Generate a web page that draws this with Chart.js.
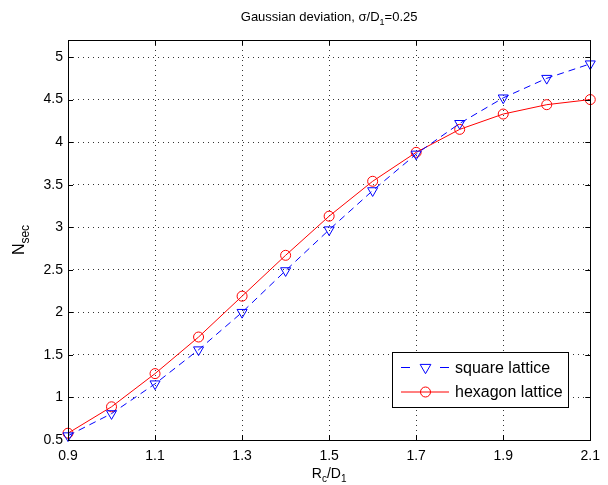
<!DOCTYPE html>
<html>
<head>
<meta charset="utf-8">
<script src="https://cdn.jsdelivr.net/npm/chart.js@4/dist/chart.umd.min.js"></script>
<style>
html,body{margin:0;padding:0;background:#fff;}
#wrap{width:608px;height:485px;}
</style>
</head>
<body>
<div id="wrap"><canvas id="c" width="608" height="485"></canvas></div>
<script>
// ---- data ----
const xValues = [0.9, 1.0, 1.1, 1.2, 1.3, 1.4, 1.5, 1.6, 1.7, 1.8, 1.9, 2.0, 2.1];
const squareValues = [0.55, 0.81, 1.16, 1.56, 2.00, 2.49, 2.97, 3.43, 3.86, 4.22, 4.52, 4.75, 4.92];
const hexagonValues = [0.58, 0.89, 1.28, 1.71, 2.19, 2.67, 3.13, 3.54, 3.88, 4.15, 4.33, 4.44, 4.50];
const seriesLabels = ['square lattice', 'hexagon lattice'];
const xTicks = [0.9, 1.1, 1.3, 1.5, 1.7, 1.9, 2.1];
const xTickLabels = ['0.9', '1.1', '1.3', '1.5', '1.7', '1.9', '2.1'];
const yTicks = [0.5, 1, 1.5, 2, 2.5, 3, 3.5, 4, 4.5, 5];
const yTickLabels = ['0.5', '1', '1.5', '2', '2.5', '3', '3.5', '4', '4.5', '5'];

const FONT = '"Liberation Sans", Arial, Helvetica, sans-serif';
const BLUE = '#0000ff', RED = '#ff0000';

function toPoints(ys) { return xValues.map((x, i) => ({ x: x, y: ys[i] })); }

// draw a run of [text, mode] parts; mode: 'n' normal, 's' subscript
function drawRich(ctx, parts, x, y, size, align) {
  const subSize = Math.round(size * 0.72);
  let total = 0;
  const widths = parts.map(p => {
    ctx.font = (p[1] === 's' ? subSize : size) + 'px ' + FONT;
    const w = ctx.measureText(p[0]).width;
    total += w;
    return w;
  });
  let cx = align === 'center' ? x - total / 2 : x;
  ctx.textAlign = 'left';
  ctx.textBaseline = 'alphabetic';
  parts.forEach((p, i) => {
    ctx.font = (p[1] === 's' ? subSize : size) + 'px ' + FONT;
    ctx.fillText(p[0], cx, p[1] === 's' ? y + size * 0.3 : y);
    cx += widths[i];
  });
}

const decor = {
  id: 'decor',
  afterDraw(chart) {
    const ctx = chart.ctx;
    const a = chart.chartArea;
    const xs = chart.scales.x, ys = chart.scales.y;
    ctx.save();
    ctx.strokeStyle = '#000';
    ctx.lineWidth = 1;
    ctx.setLineDash([]);
    // inward ticks
    const TL = 5;
    ctx.beginPath();
    xTicks.forEach(v => {
      const px = Math.round(xs.getPixelForValue(v)) + 0.5;
      ctx.moveTo(px, a.bottom); ctx.lineTo(px, a.bottom - TL);
      ctx.moveTo(px, a.top); ctx.lineTo(px, a.top + TL);
    });
    yTicks.forEach(v => {
      const py = Math.round(ys.getPixelForValue(v)) + 0.5;
      ctx.moveTo(a.left, py); ctx.lineTo(a.left + TL, py);
      ctx.moveTo(a.right, py); ctx.lineTo(a.right - TL, py);
    });
    ctx.stroke();
    // box
    ctx.strokeRect(Math.round(a.left) + 0.5, Math.round(a.top) + 0.5,
                   Math.round(a.right - a.left), Math.round(a.bottom - a.top));

    // title
    ctx.fillStyle = '#000';
    const cxp = (a.left + a.right) / 2;
    drawRich(ctx, [['Gaussian deviation, σ/D', 'n'], ['1', 's'], ['=0.25', 'n']], cxp, 21, 13, 'center');
    // x label
    drawRich(ctx, [['R', 'n'], ['c', 's'], ['/D', 'n'], ['1', 's']], cxp, 478, 14, 'center');
    // y label (rotated)
    ctx.save();
    ctx.translate(24, (a.top + a.bottom) / 2);
    ctx.rotate(-Math.PI / 2);
    drawRich(ctx, [['N', 'n'], ['sec', 's']], 0, 0, 16, 'center');
    ctx.restore();

    // legend
    const lx = 392.5, ly = 352.5, lw = 176, lh = 55;
    ctx.fillStyle = '#fff';
    ctx.fillRect(lx, ly, lw, lh);
    ctx.strokeStyle = '#000';
    ctx.strokeRect(lx, ly, lw, lh);
    const rows = [
      { label: seriesLabels[0], color: BLUE, dash: [7, 5], marker: 'tri', y: 367.5 },
      { label: seriesLabels[1], color: RED, dash: [], marker: 'circ', y: 392 }
    ];
    rows.forEach(r => {
      ctx.strokeStyle = r.color;
      ctx.lineWidth = 1;
      ctx.setLineDash([]);
      ctx.beginPath();
      if (r.dash.length) {
        ctx.moveTo(401, r.y); ctx.lineTo(410, r.y);
        ctx.moveTo(440, r.y); ctx.lineTo(449, r.y);
      } else {
        ctx.moveTo(401, r.y); ctx.lineTo(449, r.y);
      }
      ctx.stroke();
      ctx.beginPath();
      const mx = 425.5, my = r.y;
      if (r.marker === 'circ') {
        ctx.arc(mx, my, 5, 0, Math.PI * 2);
      } else {
        const rr = 6.2;
        ctx.moveTo(mx - rr * 0.866, my - rr * 0.5);
        ctx.lineTo(mx + rr * 0.866, my - rr * 0.5);
        ctx.lineTo(mx, my + rr);
        ctx.closePath();
      }
      ctx.stroke();
      ctx.fillStyle = '#000';
      ctx.font = '16px ' + FONT;
      ctx.textAlign = 'left';
      ctx.textBaseline = 'middle';
      ctx.fillText(r.label, 455, r.y + 1);
    });
    ctx.restore();
  }
};

new Chart(document.getElementById('c'), {
  type: 'scatter',
  data: {
    datasets: [
      {
        label: seriesLabels[0],
        data: toPoints(squareValues),
        showLine: true,
        borderColor: BLUE,
        backgroundColor: 'rgba(0,0,0,0)',
        borderWidth: 1,
        borderDash: [7, 5],
        pointStyle: 'triangle',
        rotation: 180,
        pointRadius: 5.8,
        pointBorderWidth: 1,
        pointBorderColor: BLUE,
        pointBackgroundColor: 'rgba(0,0,0,0)',
        clip: false,
        tension: 0
      },
      {
        label: seriesLabels[1],
        data: toPoints(hexagonValues),
        showLine: true,
        borderColor: RED,
        backgroundColor: 'rgba(0,0,0,0)',
        borderWidth: 1,
        pointStyle: 'circle',
        pointRadius: 5,
        pointBorderWidth: 1,
        pointBorderColor: RED,
        pointBackgroundColor: 'rgba(0,0,0,0)',
        clip: false,
        tension: 0
      }
    ]
  },
  options: {
    responsive: false,
    animation: false,
    devicePixelRatio: 1,
    layout: { padding: { top: 40, right: 15, left: 0, bottom: 0 } },
    plugins: {
      legend: { display: false },
      title: { display: false },
      tooltip: { enabled: false }
    },
    scales: {
      x: {
        type: 'linear',
        min: 0.9, max: 2.1,
        afterFit(s) { s.height = 45; },
        afterBuildTicks(s) { s.ticks = xTicks.map(v => ({ value: v })); },
        ticks: {
          padding: 8,
          color: '#000',
          font: { family: FONT, size: 14 },
          maxRotation: 0,
          autoSkip: false,
          callback: (v) => { const i = xTicks.findIndex(t => Math.abs(t - v) < 1e-9); return i >= 0 ? xTickLabels[i] : ''; }
        },
        grid: { color: '#333', lineWidth: 1, drawTicks: false },
        border: { display: false, dash: [1, 4] }
      },
      y: {
        type: 'linear',
        min: 0.5, max: 5.2,
        afterFit(s) { s.width = 68; },
        afterBuildTicks(s) { s.ticks = yTicks.map(v => ({ value: v })); },
        ticks: {
          padding: 5,
          color: '#000',
          font: { family: FONT, size: 14 },
          autoSkip: false,
          callback: (v) => { const i = yTicks.findIndex(t => Math.abs(t - v) < 1e-9); return i >= 0 ? yTickLabels[i] : ''; }
        },
        grid: { color: '#333', lineWidth: 1, drawTicks: false },
        border: { display: false, dash: [1, 4] }
      }
    }
  },
  plugins: [decor]
});
</script>
</body>
</html>
